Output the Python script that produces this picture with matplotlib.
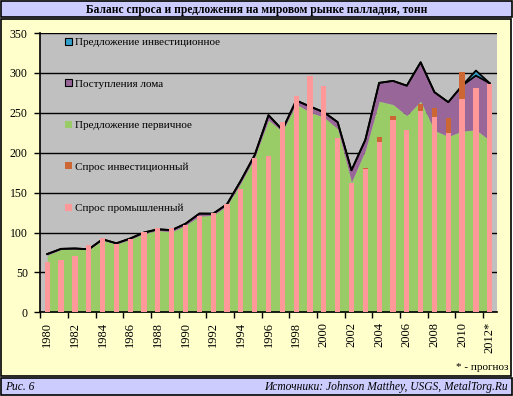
import matplotlib.pyplot as plt
import matplotlib.patches as mpatches
import numpy as np

years = list(range(1980, 2013))
year_labels = [str(y) if y < 2012 else "2012*" for y in years]

# Предложение первичное (т)
primary = [71.6, 78.7, 79.0, 78.3, 90.4, 85.4, 91.2, 98.7, 102.5, 100.8,
           109.0, 120.4, 121.6, 133.7, 162.0, 194.0, 241.0, 226.6, 261.0, 250.8,
           244.5, 230.0, 163.3, 202.9, 264.5, 260.4, 246.6, 264.5, 227.9, 220.4,
           227.0, 228.7, 215.4]
# Поступления лома
scrap = [1.4, 0.8, 1.0, 0.7, 1.1, 1.1, 1.3, 1.3, 1.5, 2.2,
         2.0, 3.3, 2.0, 1.8, 3.0, 3.0, 6.0, 2.1, 4.4, 7.1,
         6.3, 8.3, 14.7, 13.1, 23.0, 29.6, 37.4, 48.8, 47.9, 42.9,
         57.0, 67.9, 71.6]
# Предложение инвестиционное
inv_supply = [0] * 31 + [6.3, 0]
# Спрос промышленный
industrial = [63.0, 65.4, 70.4, 84.0, 92.9, 85.8, 91.6, 100.8, 105.4, 105.4,
              109.0, 120.8, 124.0, 135.8, 154.0, 193.3, 195.6, 239.0, 271.6, 296.6,
              284.0, 218.3, 161.6, 179.1, 213.0, 240.6, 228.0, 251.8, 244.5, 224.5,
              267.8, 281.6, 286.6]
# Спрос инвестиционный
inv_demand = [0] * 23 + [1.3, 6.2, 6.0, 1.0, 9.3, 11.9, 19.0, 33.8, 0, 0]

W, H = 513, 396
fig = plt.figure(figsize=(W / 100, H / 100), dpi=100)
fig.patch.set_facecolor("white")
serif = "Liberation Serif"


def box(x0, y0, x1, y1, color):
    # pixel coords from top-left
    r = mpatches.Rectangle((x0 / W, 1 - y1 / H), (x1 - x0) / W, (y1 - y0) / H,
                           transform=fig.transFigure, facecolor=color,
                           edgecolor="black", linewidth=1.2, zorder=-1)
    fig.patches.append(r)


box(1, 1, 512, 17, "#CCCCFF")
box(1, 19, 511, 376, "#FFFFCC")
box(1, 378, 512, 395, "#CCCCFF")

fig.text(0.5, 1 - 9.5 / H, "Баланс спроса и предложения на мировом рынке палладия, тонн",
         ha="center", va="center", fontsize=8.3, fontweight="bold", family=serif)
fig.text(5 / W, 1 - 387 / H, "Рис. 6", ha="left", va="center", fontsize=8.3,
         style="italic", family=serif)
fig.text(508 / W, 1 - 387 / H, "Источники: Johnson Matthey, USGS, MetalTorg.Ru",
         ha="right", va="center", fontsize=8.3, style="italic", family=serif)
fig.text(509 / W, 1 - 368 / H, "* - прогноз", ha="right", va="center",
         fontsize=8, family=serif)

ax = fig.add_axes([40.3 / W, 1 - 312.3 / H, 456.4 / W, 279.3 / H])
ax.set_zorder(2)
ax.set_facecolor("#C0C0C0")

x = np.arange(len(years))
p = np.array(primary)
s = np.array(scrap)
b = np.array(inv_supply)

ax.fill_between(x, 0, p, color="#99CC66", lw=0, zorder=2)
ax.fill_between(x, p, p + s, color="#996699", lw=0, zorder=2)
ax.fill_between(x, p + s, p + s + b, color="#33A0CC", lw=0, zorder=2)
ax.plot(x, p + s, color="black", lw=1.3, zorder=3)
ax.plot(x, p + s + b, color="black", lw=1.3, zorder=3)

ax.bar(x, industrial, width=0.38, color="#FF9999", zorder=4)
ax.bar(x, inv_demand, width=0.38, bottom=industrial, color="#CC6633", zorder=4)

ax.set_xlim(-0.5, len(years) - 0.5)
ax.set_ylim(0, 350)
ax.set_yticks(range(0, 351, 50))
ax.yaxis.grid(True, color="black", lw=1)
ax.set_axisbelow(True)
ax.set_xticks(x[::2])
ax.set_xticklabels(year_labels[::2], rotation=90, family=serif, fontsize=9)
ax.set_xticks(np.arange(-0.5, len(years), 2), minor=True)
ax.tick_params(axis="x", which="major", length=0, pad=7)
ax.tick_params(axis="x", which="minor", length=4, width=1, direction="out")
ax.tick_params(axis="y", length=4, width=1, direction="out", pad=5)
for lab in ax.get_yticklabels():
    lab.set_family(serif)
    lab.set_fontsize(8.5)
for sp in ["top", "right"]:
    ax.spines[sp].set_visible(False)
for sp in ["left", "bottom"]:
    ax.spines[sp].set_linewidth(1.2)

handles = [
    mpatches.Patch(facecolor="#33A0CC", edgecolor="black", lw=0.8),
    mpatches.Patch(facecolor="#996699", edgecolor="black", lw=0.8),
    mpatches.Patch(facecolor="#99CC66", lw=0),
    mpatches.Patch(facecolor="#CC6633", lw=0),
    mpatches.Patch(facecolor="#FF9999", lw=0),
]
labels = ["Предложение инвестиционное", "Поступления лома", "Предложение первичное",
          "Спрос инвестиционный", "Спрос промышленный"]
ax.legend(handles, labels, loc="upper left", bbox_to_anchor=(0.032, 1.018),
          frameon=False, prop={"family": serif, "size": 8.0},
          handlelength=0.6, handleheight=0.6, handletextpad=0.3,
          labelspacing=2.88)

fig.savefig("out.png", dpi=100)
